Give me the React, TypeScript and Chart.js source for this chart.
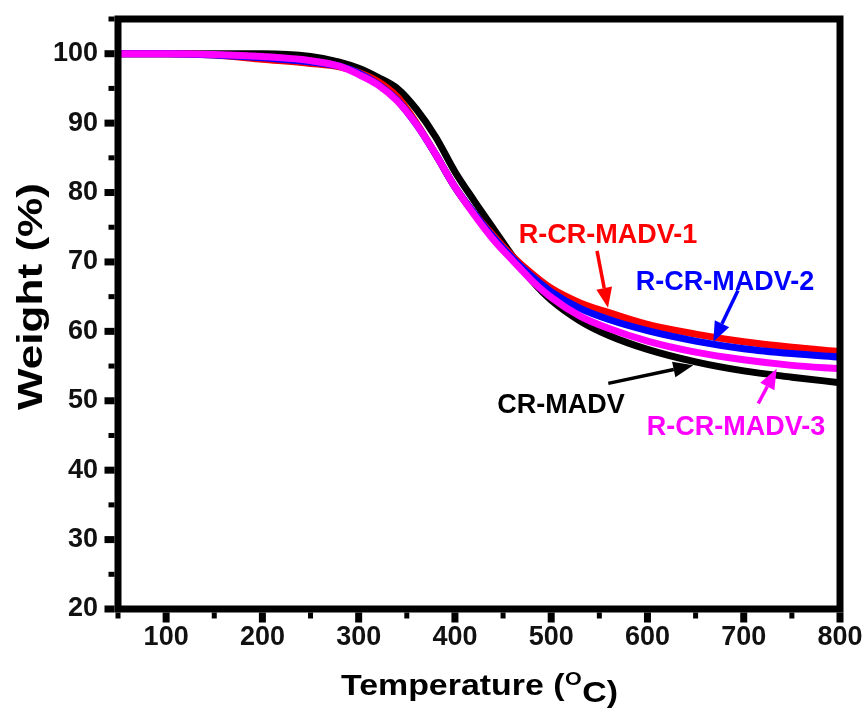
import React, { useEffect, useRef } from "react";
import { Chart, registerables } from "chart.js";

Chart.register(...registerables);

// ---- Data ----
const temperatures = [50, 100, 150, 200, 250, 280, 300, 320, 340, 360, 380, 400, 420, 440, 460, 480, 500, 530, 560, 600, 650, 700, 750, 800];
const crMadv = [100, 100, 100, 100, 99.6, 98.8, 97.9, 96.6, 95.0, 92.0, 88.0, 83.0, 78.8, 74.8, 70.8, 67.3, 64.5, 61.5, 59.4, 57.4, 55.6, 54.3, 53.4, 52.6];
const rCrMadv1 = [100, 100, 99.8, 99.2, 98.6, 98.1, 97.3, 96.0, 93.8, 90.0, 85.5, 80.8, 77.0, 73.8, 70.8, 68.3, 66.2, 64.1, 62.7, 61.0, 59.6, 58.5, 57.7, 57.1];
const rCrMadv2 = [100, 100, 99.8, 99.4, 98.8, 98.2, 97.2, 95.6, 93.3, 89.8, 85.5, 80.8, 77.0, 73.5, 70.5, 67.9, 65.7, 63.3, 61.7, 60.1, 58.6, 57.5, 56.8, 56.3];
const rCrMadv3 = [100, 100, 99.9, 99.6, 99.0, 98.2, 97.0, 95.5, 93.2, 89.8, 85.5, 80.8, 76.8, 73.2, 70.2, 67.3, 64.9, 62.2, 60.4, 58.6, 57.0, 55.9, 55.1, 54.6];

const seriesNames = ["CR-MADV", "R-CR-MADV-1", "R-CR-MADV-2", "R-CR-MADV-3"];
const seriesColors = ["#000000", "#ff0000", "#0000ff", "#ff00ff"];

const xTickLabels = [100, 200, 300, 400, 500, 600, 700, 800];
const yTickLabels = [20, 30, 40, 50, 60, 70, 80, 90, 100];
const xMinorTicks = [50, 150, 250, 350, 450, 550, 650, 750];
const yMinorTicks = [25, 35, 45, 55, 65, 75, 85, 95, 105];

const xTitle = "Temperature (";
const xTitleSup = "O";
const xTitleEnd = "C)";
const yTitle = "Weight (%)";

// annotation labels: text, colour, label anchor (data), arrow tail & tip (data)
const labelTexts = ["R-CR-MADV-1", "R-CR-MADV-2", "CR-MADV", "R-CR-MADV-3"];
const labelColors = ["#ff0000", "#0000ff", "#000000", "#ff00ff"];
const labelAnchors = [[559, 72.8], [680.5, 65.9], [510.2, 48.2], [692, 45.0]];
const arrowTails = [[547.6, 71.6], [694.0, 65.9], [559.3, 52.5], [715.1, 49.6]];
const arrowTips = [[559.0, 63.4], [668.4, 58.5], [647.6, 55.1], [734.2, 54.6]];

const FONT = "'Liberation Sans', Arial, sans-serif";

const framePlugin = {
  id: "frameTicks",
  afterDatasetsDraw(chart: any) {
    const { ctx, chartArea, scales } = chart;
    const xs = scales.x;
    const ys = scales.y;
    const lw = 7;
    ctx.save();
    ctx.strokeStyle = "#000";
    ctx.fillStyle = "#000";
    ctx.lineWidth = lw;
    ctx.lineJoin = "miter";
    ctx.strokeRect(chartArea.left, chartArea.top, chartArea.right - chartArea.left, chartArea.bottom - chartArea.top);
    const outL = chartArea.left - lw / 2;
    const outB = chartArea.bottom + lw / 2;
    for (const v of yTickLabels) {
      const y = ys.getPixelForValue(v);
      ctx.fillRect(outL - 10, y - 3.5, 10, 7);
    }
    for (const v of yMinorTicks) {
      const y = ys.getPixelForValue(v);
      ctx.fillRect(outL - 6, y - 2.5, 6, 5);
    }
    for (const v of xTickLabels) {
      const x = xs.getPixelForValue(v);
      ctx.fillRect(x - 3.5, outB, 7, 10);
    }
    for (const v of xMinorTicks) {
      const x = xs.getPixelForValue(v);
      ctx.fillRect(x - 2.5, outB, 5, 6);
    }
    ctx.restore();
  },
};

const annotationPlugin = {
  id: "labelsArrows",
  afterDatasetsDraw(chart: any) {
    const { ctx, scales } = chart;
    const xs = scales.x;
    const ys = scales.y;
    ctx.save();
    ctx.font = `bold 27px ${FONT}`;
    ctx.textAlign = "center";
    ctx.textBaseline = "alphabetic";
    labelTexts.forEach((t, i) => {
      const color = labelColors[i];
      ctx.fillStyle = color;
      ctx.strokeStyle = color;
      const lx = xs.getPixelForValue(labelAnchors[i][0]);
      const ly = ys.getPixelForValue(labelAnchors[i][1]);
      ctx.fillText(t, lx, ly);
      const x1 = xs.getPixelForValue(arrowTails[i][0]);
      const y1 = ys.getPixelForValue(arrowTails[i][1]);
      const x2 = xs.getPixelForValue(arrowTips[i][0]);
      const y2 = ys.getPixelForValue(arrowTips[i][1]);
      const ang = Math.atan2(y2 - y1, x2 - x1);
      const headLen = 20;
      const headW = 8;
      const bx = x2 - headLen * Math.cos(ang);
      const by = y2 - headLen * Math.sin(ang);
      ctx.lineWidth = 3.5;
      ctx.beginPath();
      ctx.moveTo(x1, y1);
      ctx.lineTo(bx, by);
      ctx.stroke();
      ctx.beginPath();
      ctx.moveTo(x2, y2);
      ctx.lineTo(bx + headW * Math.sin(ang), by - headW * Math.cos(ang));
      ctx.lineTo(bx - headW * Math.sin(ang), by + headW * Math.cos(ang));
      ctx.closePath();
      ctx.fill();
    });
    ctx.restore();
  },
};

const titlePlugin = {
  id: "axisTitles",
  afterDraw(chart: any) {
    const { ctx } = chart;
    ctx.save();
    ctx.fillStyle = "#000";
    ctx.textBaseline = "alphabetic";
    ctx.textAlign = "left";
    const big = `bold 30px ${FONT}`;
    const small = `bold 19px ${FONT}`;
    ctx.font = big;
    const w1 = ctx.measureText(xTitle).width;
    const w3 = ctx.measureText(xTitleEnd).width;
    ctx.font = small;
    const w2 = ctx.measureText(xTitleSup).width;
    const total = w1 + w2 + w3 + 1;
    const startX = 341;
    const endX = 618;
    const sx = (endX - startX) / total;
    ctx.save();
    ctx.translate(startX, 0);
    ctx.scale(sx, 1);
    ctx.font = big;
    ctx.fillText(xTitle, 0, 695);
    ctx.font = small;
    ctx.fillText(xTitleSup, w1 + 0.5, 685);
    ctx.font = big;
    ctx.fillText(xTitleEnd, w1 + w2 + 1, 702);
    ctx.restore();
    ctx.font = `bold 35px ${FONT}`;
    const wy = ctx.measureText(yTitle).width;
    const yStart = 410;
    const yEnd = 183;
    const sy = (yStart - yEnd) / wy;
    ctx.save();
    ctx.translate(42, yStart);
    ctx.rotate(-Math.PI / 2);
    ctx.scale(sy, 1);
    ctx.fillText(yTitle, 0, 0);
    ctx.restore();
    ctx.restore();
  },
};

function zeroPad(s: any) {
  s.paddingTop = 0;
  s.paddingBottom = 0;
  s.paddingLeft = 0;
  s.paddingRight = 0;
}

export default function App() {
  const ref = useRef<HTMLCanvasElement | null>(null);
  useEffect(() => {
    document.body.style.margin = "0";
    if (!ref.current) return;
    const datasets = [crMadv, rCrMadv1, rCrMadv2, rCrMadv3].map((vals, i) => ({
      label: seriesNames[i],
      data: temperatures.map((t, k) => ({ x: t, y: vals[k] })),
      borderColor: seriesColors[i],
      backgroundColor: seriesColors[i],
      borderWidth: 7,
      pointRadius: 0,
      fill: false,
      cubicInterpolationMode: "monotone" as const,
      order: 4 - i,
    }));
    const chart = new Chart(ref.current, {
      type: "line",
      data: { datasets },
      options: {
        animation: false,
        responsive: true,
        maintainAspectRatio: false,
        layout: { padding: { left: 0, top: 19, right: 27, bottom: 0 } },
        plugins: { legend: { display: false }, tooltip: { enabled: false } },
        scales: {
          x: {
            type: "linear",
            min: 50,
            max: 800,
            grid: { display: false, drawTicks: false },
            border: { display: false },
            afterBuildTicks: (s: any) => {
              s.ticks = xTickLabels.map((v) => ({ value: v }));
            },
            afterFit: (s: any) => {
              s.height = 103;
              zeroPad(s);
            },
            ticks: {
              padding: 12,
              color: "#111",
              maxRotation: 0,
              autoSkip: false,
              font: { family: FONT, weight: "bold", size: 27 },
            },
          },
          y: {
            type: "linear",
            min: 20,
            max: 105,
            grid: { display: false, drawTicks: false },
            border: { display: false },
            afterBuildTicks: (s: any) => {
              s.ticks = yTickLabels.map((v) => ({ value: v }));
            },
            afterFit: (s: any) => {
              s.width = 118;
              zeroPad(s);
            },
            ticks: {
              padding: 20,
              color: "#111",
              autoSkip: false,
              font: { family: FONT, weight: "bold", size: 27 },
            },
          },
        },
      },
      plugins: [framePlugin, annotationPlugin, titlePlugin],
    });
    return () => chart.destroy();
  }, []);
  return (
    <div style={{ width: 867, height: 712, position: "relative", background: "#fff" }}>
      <canvas ref={ref} />
    </div>
  );
}
